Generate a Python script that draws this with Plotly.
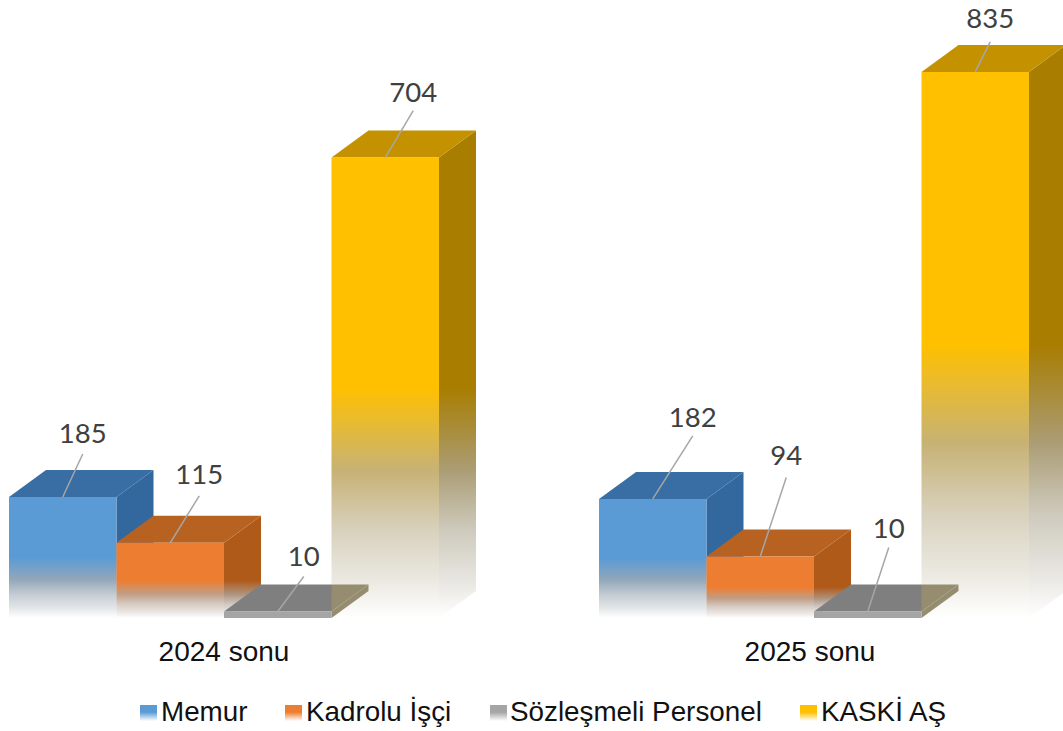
import plotly.graph_objects as go

# ---- data ----
periods = ["2024 sonu", "2025 sonu"]
series = ["Memur", "Kadrolu İşçi", "Sözleşmeli Personel", "KASKİ AŞ"]
memur = [185, 182]
kadrolu = [115, 94]
sozlesmeli = [10, 10]
kaski = [704, 835]

# ---- styling ----
front_cols = [(91, 155, 213), (237, 125, 49), (165, 165, 165), (255, 192, 0)]
top_cols = [(56, 110, 163), (184, 98, 34), (127, 127, 127), (196, 146, 0)]
side_cols = [(50, 104, 158), (176, 90, 26), (120, 120, 120), (168, 125, 0)]

W, H = 1063, 731
BASE_PX = 618
PX_PER_VAL = 0.654
BAR_PX = 107.5
LEFT_PX = 9
GROUP_STEP = 590 / BAR_PX
DX = 37 / BAR_PX
DY = 27 / PX_PER_VAL

# leader label offsets (px, from the centre of the front top edge to the label end of the line)
leader = {
    (0, 0): (20, -43), (0, 1): (29, -47), (0, 2): (26, -35), (0, 3): (28, -47),
    (1, 0): (40, -63), (1, 1): (26, -79), (1, 2): (21, -64), (1, 3): (15, -30),
}
label_gap = {
    (0, 0): 18, (0, 1): 19, (0, 2): 17, (0, 3): 15,
    (1, 0): 16, (1, 1): 19, (1, 2): 16, (1, 3): 21,
}
tick_px = [224, 810]


def xv(px):
    return (px - LEFT_PX) / BAR_PX


def yv(py):
    return (BASE_PX - py) / PX_PER_VAL


def rgb(c):
    return "rgb(%d,%d,%d)" % tuple(int(round(v)) for v in c)


def mix(a, b, t):
    return tuple(a[i] + (b[i] - a[i]) * t for i in range(3))


def fade(c):
    g = (172, 172, 172)
    w = (255, 255, 255)
    return [
        [0.0, rgb(w)],
        [0.08, rgb(mix(mix(c, g, 0.85), w, 0.72))],
        [0.19, rgb(mix(mix(c, g, 0.82), w, 0.42))],
        [0.32, rgb(mix(c, g, 0.68))],
        [0.42, rgb(mix(c, g, 0.30))],
        [0.50, rgb(c)],
        [1.0, rgb(c)],
    ]


fig = go.Figure()


def face(xs, ys, grad):
    fig.add_trace(go.Scatter(
        x=xs + xs[:1], y=ys + ys[:1], mode="lines", fill="toself",
        line=dict(width=0), fillgradient=grad, showlegend=False, hoverinfo="skip"))


def vgrad(cs, a, b):
    return dict(type="vertical", colorscale=cs, start=a, stop=b)


def solid(c):
    return dict(type="vertical", colorscale=[[0, rgb(c)], [1, rgb(c)]])


all_vals = [memur, kadrolu, sozlesmeli, kaski]
draw_order = [0, 1, 3, 2]

for g in range(2):
    for s in draw_order:
        v = all_vals[s][g]
        x0 = g * GROUP_STEP + s
        x1 = x0 + 1
        if s == 2:
            tan = (150, 141, 112)
            face([x1, x1 + DX, x1 + DX, x1], [0, DY, v + DY, v], solid(tan))
            top_grad = dict(type="horizontal", start=x0, stop=x1 + DX, colorscale=[
                [0, rgb(top_cols[s])], [0.74, rgb(top_cols[s])],
                [0.75, rgb(tan)], [1, rgb(tan)]])
            face([x0, x1, x1 + DX, x0 + DX], [v, v, v + DY, v + DY], top_grad)
            face([x0, x1, x1, x0], [0, 0, v, v], solid(front_cols[s]))
        else:
            face([x1, x1 + DX, x1 + DX, x1], [0, DY, v + DY, v], vgrad(fade(side_cols[s]), 0, v))
            face([x0, x1, x1 + DX, x0 + DX], [v, v, v + DY, v + DY], solid(top_cols[s]))
            face([x0, x1, x1, x0], [0, 0, v, v], vgrad(fade(front_cols[s]), 0, v))

# leader lines and value labels
for g in range(2):
    for s in range(4):
        v = all_vals[s][g]
        xc = g * GROUP_STEP + s + 0.5
        ox, oy = leader[(g, s)]
        xl = xc + ox / BAR_PX
        yl = v - oy / PX_PER_VAL
        fig.add_trace(go.Scatter(
            x=[xc, xl], y=[v, yl], mode="lines",
            line=dict(color="#A6A6A6", width=1.5), showlegend=False, hoverinfo="skip"))
        fig.add_trace(go.Scatter(
            x=[xl], y=[yl + label_gap[(g, s)] / PX_PER_VAL], mode="text", text=[str(v)],
            textposition="middle center",
            textfont=dict(family="Lato", size=27.5, color="#404040"),
            showlegend=False, hoverinfo="skip"))

# legend, laid out by hand to keep the narrow swatches
legend_swatch_px = [140, 285, 490, 800]
legend_text_px = [161, 306, 510, 821]
for s, name in enumerate(series):
    a = legend_swatch_px[s]
    xs = [xv(a), xv(a + 17), xv(a + 17), xv(a)]
    ys = [yv(721), yv(721), yv(705), yv(705)]
    face(xs, ys, vgrad([[0, "rgb(255,255,255)"], [0.55, rgb(front_cols[s])], [1, rgb(front_cols[s])]],
                       yv(721), yv(705)))
    fig.add_trace(go.Scatter(
        x=[xv(legend_text_px[s])], y=[yv(714)], mode="text", text=[name],
        textposition="middle right",
        textfont=dict(family="Liberation Sans", size=27.8, color="#111111"),
        showlegend=False, hoverinfo="skip"))

fig.update_layout(
    width=W, height=H, autosize=False,
    margin=dict(l=0, r=0, t=0, b=0),
    paper_bgcolor="white", plot_bgcolor="white", showlegend=False,
    xaxis=dict(
        range=[xv(0), xv(W)], showgrid=False, zeroline=False, showline=False,
        tickmode="array", tickvals=[xv(p) for p in tick_px],
        ticktext=periods, ticks="", ticklabelstandoff=14,
        tickfont=dict(family="Liberation Sans", size=28, color="#111111"),
        anchor="free", position=(H - BASE_PX) / H, fixedrange=True),
    yaxis=dict(range=[yv(H), yv(0)], visible=False, fixedrange=True),
)
fig.write_html("out.html", config=dict(displayModeBar=False),
               post_script="document.body.style.margin='0';document.body.style.overflow='hidden';")
